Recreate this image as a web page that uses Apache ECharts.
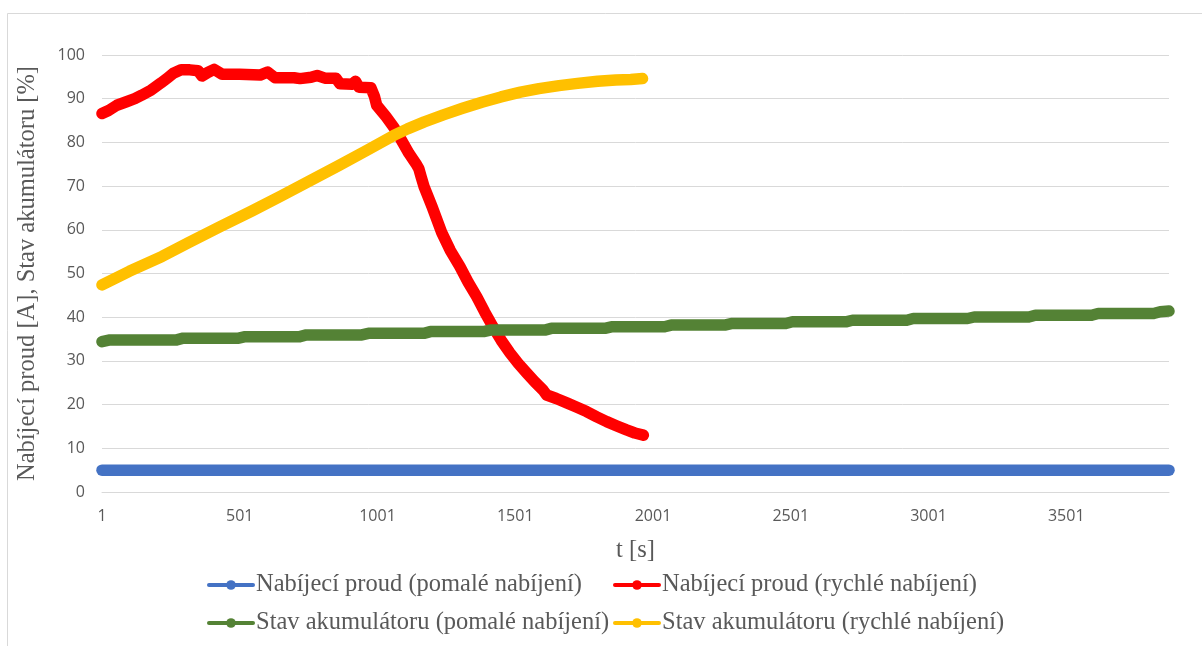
<!DOCTYPE html>
<html>
<head>
<meta charset="utf-8">
<script src="https://cdn.jsdelivr.net/npm/echarts@6/dist/echarts.min.js"></script>
<style>
  html, body { margin: 0; padding: 0; background: #ffffff; }
  #chart { width: 1202px; height: 646px; }
</style>
</head>
<body>
<div id="chart"></div>
<script>
// Series names (legend order)
const seriesNames = [
  'Nabíjecí proud (pomalé nabíjení)',
  'Nabíjecí proud (rychlé nabíjení)',
  'Stav akumulátoru (pomalé nabíjení)',
  'Stav akumulátoru (rychlé nabíjení)'
];

// Time axis
const tMax = 3874;
const xTickLabels = [1, 501, 1001, 1501, 2001, 2501, 3001, 3501];

// Charging current, slow charging [A]  ([t, value])
const currentSlow = [[1, 5], [3874, 5]];

// Charging current, fast charging [A]
const currentFast = [
  [1, 86.6], [25, 87.3], [55, 88.5], [90, 89.3], [120, 90.0], [145, 90.8], [180, 92.0],
  [215, 93.6], [240, 94.8], [260, 95.8], [288, 96.6], [320, 96.6], [350, 96.4], [364, 95.2],
  [385, 96.0], [408, 96.7], [437, 95.6], [500, 95.6], [575, 95.4], [602, 96.1], [629, 94.8],
  [698, 94.8], [720, 94.6], [760, 94.9], [782, 95.3], [810, 94.7], [850, 94.7], [865, 93.4],
  [910, 93.3], [921, 94.0], [934, 92.6], [977, 92.5], [990, 90.5], [998, 88.5], [1032, 85.9],
  [1061, 83.4], [1088, 80.5], [1115, 77.5], [1140, 75.2], [1151, 74.0], [1160, 72.0],
  [1170, 69.9], [1199, 65.3], [1234, 59.4], [1265, 55.3], [1300, 51.6], [1330, 48.0],
  [1361, 44.7], [1390, 41.2], [1420, 37.8], [1450, 34.7], [1482, 31.8], [1512, 29.4],
  [1543, 27.2], [1572, 25.2], [1602, 23.3], [1615, 22.2], [1650, 21.4], [1688, 20.4],
  [1725, 19.4], [1760, 18.4], [1797, 17.2], [1833, 16.1], [1870, 15.1], [1905, 14.2],
  [1935, 13.5], [1966, 13.0]
];

// State of charge, slow charging [%]
const socSlow = [
  [1, 34.4], [30, 34.8], [272, 34.8], [296, 35.2], [497, 35.2], [521, 35.55],
  [719, 35.55], [743, 35.95], [944, 35.95], [968, 36.3], [1169, 36.3], [1193, 36.7],
  [1386, 36.7], [1410, 37.05], [1608, 37.05], [1632, 37.45], [1826, 37.45], [1850, 37.8],
  [2043, 37.8], [2067, 38.2], [2261, 38.2], [2285, 38.55], [2483, 38.55], [2507, 38.95],
  [2701, 38.95], [2725, 39.3], [2922, 39.3], [2946, 39.7], [3143, 39.7], [3167, 40.05],
  [3365, 40.05], [3389, 40.45], [3593, 40.45], [3617, 40.85], [3818, 40.85], [3842, 41.25],
  [3874, 41.4]
];

// State of charge, fast charging [%]
const socFast = [
  [1, 47.4], [100, 50.5], [219, 53.9], [317, 57.1], [430, 60.7], [545, 64.3], [650, 67.7],
  [755, 71.2], [860, 74.7], [963, 78.2], [1060, 81.6], [1110, 83.1], [1171, 84.7],
  [1240, 86.3], [1310, 87.8], [1380, 89.2], [1449, 90.4], [1520, 91.5], [1587, 92.3],
  [1660, 93.0], [1727, 93.5], [1800, 94.0], [1866, 94.3], [1920, 94.4], [1963, 94.6]
];

const colors = ['#4472C4', '#FF0000', '#548235', '#FFC000'];
const seriesData = [currentSlow, currentFast, socSlow, socFast];

const sansFont = '"Open Sans", "Liberation Sans", sans-serif';
const serifFont = '"Liberation Serif", "DejaVu Serif", serif';
const textGray = '#595959';
const gridGray = '#d9d9d9';

const chart = echarts.init(document.getElementById('chart'), null, { renderer: 'canvas' });

// Legend laid out as a 2 x 2 grid: one legend box per entry
const legendCols = [207, 613];
const legendRows = [570, 608];
const legends = seriesNames.map((name, i) => ({
  orient: 'horizontal',
  left: legendCols[i % 2],
  top: legendRows[Math.floor(i / 2)],
  padding: 0,
  itemWidth: 44,
  itemHeight: 12,
  itemGap: 0,
  data: [name],
  textStyle: { fontFamily: serifFont, fontSize: 24.5, color: textGray, lineHeight: 30, padding: [0, 0, 0, -2] },
  lineStyle: { width: 4 },
  selectedMode: false
}));

chart.setOption({
  animation: false,
  backgroundColor: '#ffffff',
  color: colors,
  graphic: [{
    type: 'rect',
    shape: { x: 7.5, y: 13.5, width: 1300, height: 700 },
    style: { fill: 'none', stroke: gridGray, lineWidth: 1 },
    silent: true
  }],
  grid: {
    left: 102, right: 33, top: 55, bottom: 154,
    containLabel: false,
    outerBoundsMode: 'none'
  },
  legend: legends,
  xAxis: {
    type: 'value',
    min: 1,
    max: tMax,
    name: 't [s]',
    nameLocation: 'middle',
    nameGap: 46,
    nameTextStyle: { fontFamily: serifFont, fontSize: 24.5, color: textGray },
    axisLine: { show: true, lineStyle: { color: gridGray, width: 1 } },
    axisTick: { show: false },
    splitLine: { show: false },
    axisLabel: {
      customValues: xTickLabels,
      formatter: (v) => String(v),
      margin: 16,
      fontFamily: sansFont,
      fontSize: 16,
      color: textGray
    }
  },
  yAxis: {
    type: 'value',
    min: 0,
    max: 100,
    interval: 10,
    name: 'Nabíjecí proud [A], Stav akumulátoru [%]',
    nameLocation: 'middle',
    nameGap: 62,
    nameTextStyle: { fontFamily: serifFont, fontSize: 24.5, color: textGray },
    axisLine: { show: false },
    axisTick: { show: false },
    splitLine: { show: true, lineStyle: { color: gridGray, width: 1 } },
    axisLabel: {
      margin: 17,
      fontFamily: sansFont,
      fontSize: 16,
      color: textGray
    }
  },
  series: seriesNames.map((name, i) => ({
    name: name,
    type: 'line',
    data: seriesData[i],
    symbol: 'circle',
    symbolSize: 10,
    showSymbol: false,
    smooth: false,
    z: 2 + i,
    lineStyle: { color: colors[i], width: 11.5, cap: 'round', join: 'round' },
    itemStyle: { color: colors[i] },
    emphasis: { disabled: true }
  }))
});
</script>
</body>
</html>
